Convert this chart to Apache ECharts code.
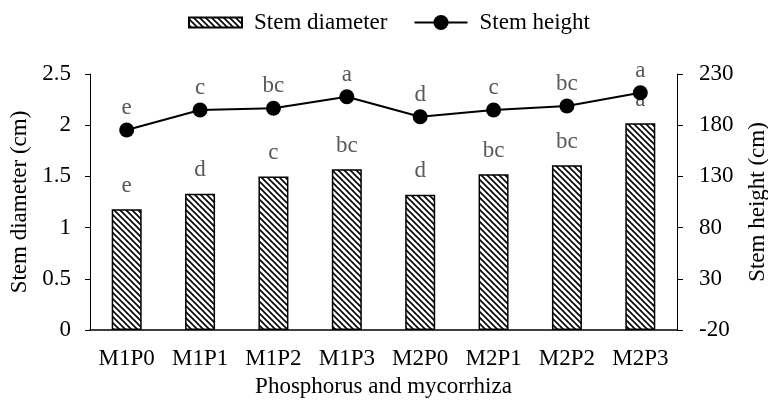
<!DOCTYPE html>
<html><head><meta charset="utf-8">
<script src="https://cdn.jsdelivr.net/npm/echarts@6/dist/echarts.min.js"></script>
<style>html,body{margin:0;padding:0;background:#fff}#c{width:768px;height:405px}</style>
</head><body><div id="c"></div>
<script>
var categories = ['M1P0','M1P1','M1P2','M1P3','M2P0','M2P1','M2P2','M2P3'];
var stemDiameter = [1.18, 1.33, 1.50, 1.57, 1.32, 1.52, 1.61, 2.02];
var stemHeight = [175.3, 194.8, 196.5, 207.8, 188.3, 194.8, 198.7, 211.7];
var diameterLetters = ['e','d','c','bc','d','bc','bc','a'];
var heightLetters = ['e','c','bc','a','d','c','bc','a'];
var leftTicks = [0, 0.5, 1, 1.5, 2, 2.5];
var rightTicks = [-20, 30, 80, 130, 180, 230];

function hatch() {
  var s = 6, cv = document.createElement('canvas');
  cv.width = s; cv.height = s;
  var g = cv.getContext('2d');
  g.fillStyle = '#fff'; g.fillRect(0,0,s,s);
  g.strokeStyle = '#000'; g.lineWidth = 1.6;
  g.beginPath();
  g.moveTo(-1,-1); g.lineTo(s+1,s+1);
  g.moveTo(-1,s-1); g.lineTo(1,s+1);
  g.moveTo(s-1,-1); g.lineTo(s+1,1);
  g.stroke();
  return cv;
}
var pattern = {image: hatch(), repeat: 'repeat'};
var font = '"Liberation Serif","Times New Roman",serif';
var FS = 23;

var chart = echarts.init(document.getElementById('c'));
chart.setOption({
  animation: false,
  textStyle: {fontFamily: font},
  legend: {
    top: 6, left: 183, itemGap: 26, itemWidth: 53, itemHeight: 19,
    textStyle: {fontFamily: font, fontSize: FS, color: '#000', padding: [0, 0, 0, 7]},
    data: [
      {name: 'Stem diameter', icon: 'path://M0,0H53V10H0Z'},
      {name: 'Stem height'}
    ]
  },
  grid: {left: 90, right: 91, top: 74, bottom: 75, containLabel: false, outerBoundsMode: 'none'},
  xAxis: {
    type: 'category', data: categories,
    axisLine: {lineStyle: {color: '#000', width: 1.5}},
    axisTick: {show: false},
    axisLabel: {interval: 0, fontFamily: font, fontSize: FS, color: '#000', margin: 17},
    name: 'Phosphorus and mycorrhiza', nameLocation: 'middle', nameGap: 45,
    nameTextStyle: {fontFamily: font, fontSize: FS, color: '#000'}
  },
  yAxis: [{
    type: 'value', min: 0, max: 2.5, interval: 0.5,
    axisLine: {show: true, lineStyle: {color: '#000', width: 1}},
    axisTick: {show: true, length: 5, lineStyle: {color: '#000'}},
    splitLine: {show: false},
    axisLabel: {fontFamily: font, fontSize: FS, color: '#000', margin: 19},
    name: 'Stem diameter (cm)', nameLocation: 'middle', nameGap: 53, nameRotate: 90,
    nameTextStyle: {fontFamily: font, fontSize: FS, color: '#000'}
  }, {
    type: 'value', min: -20, max: 230, position: 'right',
    axisLine: {show: true, lineStyle: {color: '#000', width: 1}},
    axisTick: {show: true, length: 6, customValues: rightTicks, lineStyle: {color: '#000'}},
    splitLine: {show: false},
    axisLabel: {fontFamily: font, fontSize: FS, color: '#000', margin: 22, customValues: rightTicks},
    name: 'Stem height (cm)', nameLocation: 'middle', nameGap: 69, nameRotate: 90,
    nameTextStyle: {fontFamily: font, fontSize: FS, color: '#000'}
  }],
  series: [{
    name: 'Stem diameter', type: 'bar', data: stemDiameter, yAxisIndex: 0,
    barWidth: 30,
    itemStyle: {color: pattern, borderColor: '#000', borderWidth: 1.5},
    label: {show: true, position: 'top', distance: 12, fontFamily: font, fontSize: FS, color: '#595959',
      formatter: function(p){ return diameterLetters[p.dataIndex]; }},
    z: 2
  }, {
    name: 'Stem height', type: 'line', data: stemHeight, yAxisIndex: 1,
    symbol: 'circle', symbolSize: 15,
    lineStyle: {color: '#000', width: 2},
    itemStyle: {color: '#000'},
    label: {show: true, position: 'top', distance: 3, fontFamily: font, fontSize: FS, color: '#595959',
      formatter: function(p){ return heightLetters[p.dataIndex]; }},
    z: 3
  }]
});
</script></body></html>
